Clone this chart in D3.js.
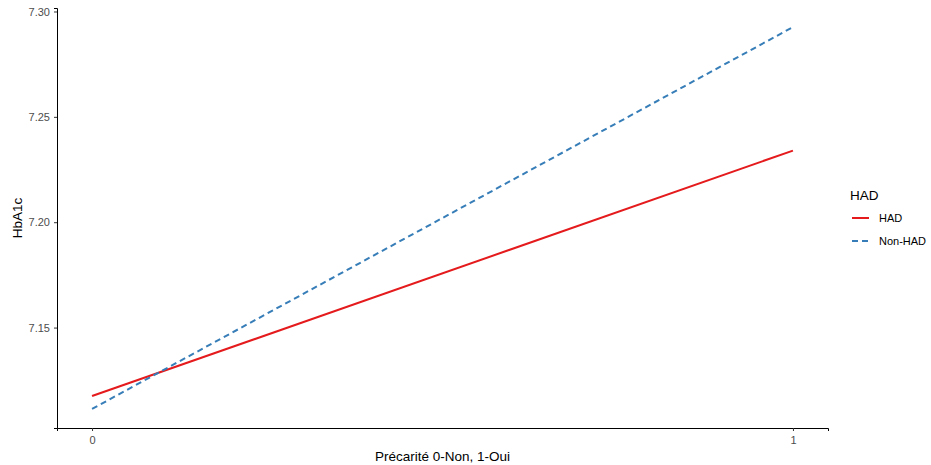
<!DOCTYPE html>
<html>
<head>
<meta charset="utf-8">
<script src="https://cdn.jsdelivr.net/npm/d3@7"></script>
<style>
  body { margin: 0; background: #fff; }
  text { font-family: "Liberation Sans", Arial, sans-serif; }
</style>
</head>
<body>
<script>
// Data
var xValues = [0, 1];
var hadValues = [7.1175, 7.234];
var nonHadValues = [7.1114, 7.2926];
var seriesNames = ["HAD", "Non-HAD"];
var xTicks = [0, 1];
var yTicks = [7.15, 7.20, 7.25, 7.30];

var svgWidth = 931, svgHeight = 465;
var margin = {top: 8, right: 103, bottom: 37, left: 57};
var chartWidth = svgWidth - margin.left - margin.right;
var chartHeight = svgHeight - margin.top - margin.bottom;

var svg = d3.select("body").append("svg")
  .attr("width", svgWidth)
  .attr("height", svgHeight);

var chart = svg.append("g")
  .attr("transform", "translate(" + margin.left + "," + margin.top + ")");

// ggplot style 5% expansion
var xScale = d3.scaleLinear().domain([-0.05, 1.05]).range([0, chartWidth]);
var yMin = d3.min(nonHadValues.concat(hadValues)), yMax = d3.max(nonHadValues.concat(hadValues));
var pad = (yMax - yMin) * 0.05;
var yScale = d3.scaleLinear().domain([yMin - pad, yMax + pad]).range([chartHeight, 0]);

var series = [
  {name: seriesNames[0], values: hadValues, color: "#E41A1C", dash: null},
  {name: seriesNames[1], values: nonHadValues, color: "#377EB8", dash: "6,4"}
];

var line = d3.line()
  .x(function(d, i) { return xScale(xValues[i]); })
  .y(function(d) { return yScale(d); });

series.forEach(function(s) {
  chart.append("path")
    .datum(s.values)
    .attr("fill", "none")
    .attr("stroke", s.color)
    .attr("stroke-width", 2)
    .attr("stroke-dasharray", s.dash)
    .attr("d", line);
});

// Axes
var xAxis = d3.axisBottom(xScale).tickValues(xTicks).tickFormat(d3.format("d")).tickSizeOuter(0).tickSize(3).tickPadding(5);
var yAxis = d3.axisLeft(yScale).tickValues(yTicks).tickFormat(d3.format(".2f")).tickSizeOuter(0).tickSize(3).tickPadding(4);

var gx = chart.append("g")
  .attr("transform", "translate(0," + chartHeight + ")")
  .call(xAxis);
var gy = chart.append("g").call(yAxis);

[gx, gy].forEach(function(g) {
  g.select(".domain").attr("stroke", "#000").attr("stroke-width", 1);
  g.selectAll(".tick line").attr("stroke", "#333");
  g.selectAll(".tick text").attr("fill", "#4D4D4D").style("font-size", "11px");
});

// Axis labels
svg.append("text")
  .attr("x", margin.left + chartWidth / 2)
  .attr("y", 461)
  .attr("text-anchor", "middle")
  .style("font-size", "13.5px")
  .text("Précarité 0-Non, 1-Oui");

svg.append("text")
  .attr("transform", "translate(22," + (margin.top + chartHeight / 2) + ") rotate(-90)")
  .attr("text-anchor", "middle")
  .style("font-size", "13.5px")
  .text("HbA1c");

// Legend
var legend = svg.append("g").attr("transform", "translate(850,0)");
legend.append("text")
  .attr("x", 0)
  .attr("y", 200)
  .style("font-size", "13.5px")
  .text("HAD");

series.forEach(function(s, i) {
  var y = 218 + i * 23;
  legend.append("line")
    .attr("x1", 2).attr("x2", 19)
    .attr("y1", y).attr("y2", y)
    .attr("stroke", s.color)
    .attr("stroke-width", 2)
    .attr("stroke-dasharray", s.dash);
  legend.append("text")
    .attr("x", 29)
    .attr("y", y + 4)
    .style("font-size", "11px")
    .text(s.name);
});
</script>
</body>
</html>
